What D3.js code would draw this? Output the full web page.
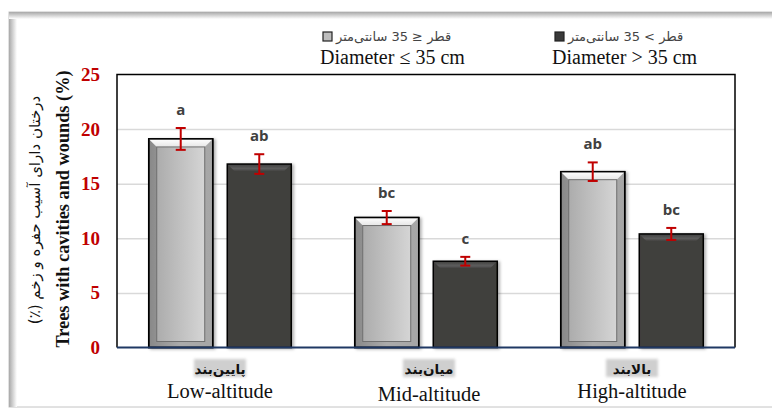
<!DOCTYPE html>
<html>
<head>
<meta charset="utf-8">
<script src="https://cdn.jsdelivr.net/npm/d3@7"></script>
<style>
  html, body { margin: 0; padding: 0; background: #ffffff; }
  svg { display: block; }
</style>
</head>
<body>
<svg id="chart" width="772" height="409"></svg>
<script>
// Altitude classes (Persian + English labels)
const categories = ["Low-altitude", "Mid-altitude", "High-altitude"];
const categoriesFa = ["پایین‌بند", "میان‌بند", "بالابند"];
// Diameter classes
const seriesKeys = ["small", "large"];
const seriesLabelsEn = ["Diameter \u2264 35 cm", "Diameter > 35 cm"];
const seriesLabelsFa = ["قطر \u2264 35 سانتی‌متر", "قطر > 35 سانتی‌متر"];
// Percentage of trees with cavities and wounds, per altitude class
const smallValues = [19.1, 11.9, 16.1];
const largeValues = [16.8, 7.9, 10.4];
// Standard errors
const smallErrors = [1.0, 0.6, 0.85];
const largeErrors = [0.9, 0.4, 0.55];
// Mean-separation letters
const smallLetters = ["a", "bc", "ab"];
const largeLetters = ["ab", "c", "bc"];
const yTicks = [0, 5, 10, 15, 20, 25];

const svg = d3.select("#chart");
const defs = svg.append("defs");

// Gradients for the bevelled bars
function linGrad(id, x2, y2, stops) {
  const g = defs.append("linearGradient").attr("id", id)
    .attr("x1", 0).attr("y1", 0).attr("x2", x2).attr("y2", y2);
  stops.forEach(([o, c]) => g.append("stop").attr("offset", o).attr("stop-color", c));
}
linGrad("lightFrame", 1, 0, [[0, "#888888"], [0.5, "#ababab"], [1, "#a6a6a6"]]);
linGrad("lightFace", 1, 0, [[0, "#acacac"], [1, "#d5d5d5"]]);
linGrad("lightTop", 0, 1, [[0, "#ffffff"], [1, "#e6e6e6"]]);
linGrad("darkTop", 0, 1, [[0, "#474746"], [0.6, "#5c5c5c"], [1, "#434240"]]);
linGrad("panelLeft", 1, 0, [[0, "#a8a8a8"], [1, "#ffffff"]]);
linGrad("panelTop", 0, 1, [[0, "#a8a8a8"], [1, "#ffffff"]]);

const shadow = defs.append("filter").attr("id", "barShadow")
  .attr("x", "-20%").attr("y", "-10%").attr("width", "150%").attr("height", "130%");
shadow.append("feDropShadow").attr("dx", 2).attr("dy", 1).attr("stdDeviation", 1.6)
  .attr("flood-color", "#000").attr("flood-opacity", 0.3);
const soft = defs.append("filter").attr("id", "soft")
  .attr("x", "-30%").attr("y", "-50%").attr("width", "160%").attr("height", "200%");
soft.append("feGaussianBlur").attr("stdDeviation", 1.8);

// Outer panel with an inset shadow on the top and left edges
svg.append("rect").attr("x", 9).attr("y", 12).attr("width", 780).attr("height", 395)
  .attr("fill", "#ffffff").attr("stroke", "#c4c4c4").attr("stroke-width", 1);
svg.append("rect").attr("x", 9).attr("y", 12).attr("width", 8).attr("height", 395)
  .attr("fill", "url(#panelLeft)");
svg.append("rect").attr("x", 9).attr("y", 12).attr("width", 780).attr("height", 7)
  .attr("fill", "url(#panelTop)");

// Scales
const plot = { left: 117, right: 735, top: 74.5, bottom: 347.5 };
const x0 = d3.scaleBand().domain(categories).range([plot.left, plot.right]).padding(0);
const x1 = d3.scaleBand().domain(seriesKeys).range([0, x0.bandwidth()])
  .paddingInner(0.185).paddingOuter(0.404);
const y = d3.scaleLinear().domain([0, 25]).range([plot.bottom, plot.top]);

// Gridlines
svg.append("g").attr("class", "grid")
  .call(d3.axisLeft(y).tickValues(yTicks.filter(t => t > 0 && t < 25))
    .tickSize(-(plot.right - plot.left)).tickFormat(""))
  .attr("transform", `translate(${plot.left},0)`)
  .call(g => g.select(".domain").remove())
  .call(g => g.selectAll("line").attr("stroke", "#d9d9d9").attr("stroke-width", 1.5));

// Y tick labels
svg.append("g")
  .attr("transform", `translate(${plot.left},0)`)
  .call(d3.axisLeft(y).tickValues(yTicks).tickSize(0).tickPadding(17))
  .call(g => g.select(".domain").remove())
  .call(g => g.selectAll("text")
    .attr("fill", "#c00000")
    .attr("font-family", "'Liberation Serif', 'Times New Roman', serif")
    .attr("font-weight", "bold")
    .attr("font-size", 19));

// Plot frame: black top/left/right, navy baseline
svg.append("path")
  .attr("d", `M${plot.left},${plot.bottom} V${plot.top} H${plot.right} V${plot.bottom}`)
  .attr("fill", "none").attr("stroke", "#000").attr("stroke-width", 1.5);

// Bars
const rows = categories.map((c, i) => ({
  cat: c,
  bars: [
    { key: "small", value: smallValues[i], err: smallErrors[i], letter: smallLetters[i] },
    { key: "large", value: largeValues[i], err: largeErrors[i], letter: largeLetters[i] }
  ]
}));

const groups = svg.append("g").selectAll("g").data(rows).join("g")
  .attr("transform", d => `translate(${x0(d.cat)},0)`);

const bw = x1.bandwidth();
const bevel = 8;

groups.each(function (row) {
  const g = d3.select(this);
  row.bars.forEach(b => {
    const bx = x1(b.key), by = y(b.value), bh = y(0) - y(b.value);
    const bar = g.append("g").attr("filter", "url(#barShadow)");
    if (b.key === "small") {
      bar.append("rect").attr("x", bx).attr("y", by).attr("width", bw).attr("height", bh)
        .attr("fill", "url(#lightFrame)").attr("stroke", "#000").attr("stroke-width", 1.5);
      bar.append("path")
        .attr("d", `M${bx},${by} H${bx + bw} L${bx + bw - bevel},${by + bevel} H${bx + bevel} Z`)
        .attr("fill", "url(#lightTop)");
      bar.append("rect").attr("x", bx + bevel).attr("y", by + bevel)
        .attr("width", bw - 2 * bevel).attr("height", Math.max(0, bh - bevel - 6))
        .attr("fill", "url(#lightFace)").attr("stroke", "#6f6f6f").attr("stroke-width", 1);
      bar.append("rect").attr("x", bx).attr("y", by).attr("width", bw).attr("height", bh)
        .attr("fill", "none").attr("stroke", "#000").attr("stroke-width", 1.5);
    } else {
      bar.append("rect").attr("x", bx).attr("y", by).attr("width", bw).attr("height", bh)
        .attr("fill", "#403f3d").attr("stroke", "#000").attr("stroke-width", 1.5);
      bar.append("path")
        .attr("d", `M${bx + 1},${by + 1} H${bx + bw - 1} L${bx + bw - 7},${by + 7} H${bx + 7} Z`)
        .attr("fill", "url(#darkTop)");
    }
  });
});

// Error bars
const errG = groups.selectAll("g.err").data(d => d.bars).join("g").attr("class", "err")
  .attr("stroke", "#c00000").attr("stroke-width", 2);
errG.append("line")
  .attr("x1", d => x1(d.key) + bw / 2).attr("x2", d => x1(d.key) + bw / 2)
  .attr("y1", d => y(d.value + d.err)).attr("y2", d => y(d.value - d.err));
errG.append("line")
  .attr("x1", d => x1(d.key) + bw / 2 - 5).attr("x2", d => x1(d.key) + bw / 2 + 5)
  .attr("y1", d => y(d.value + d.err)).attr("y2", d => y(d.value + d.err));
errG.append("line")
  .attr("x1", d => x1(d.key) + bw / 2 - 5).attr("x2", d => x1(d.key) + bw / 2 + 5)
  .attr("y1", d => y(d.value - d.err)).attr("y2", d => y(d.value - d.err));

// Significance letters
groups.selectAll("text.letter").data(d => d.bars).join("text").attr("class", "letter")
  .attr("x", d => x1(d.key) + bw / 2)
  .attr("y", d => y(d.value + d.err) - 13)
  .attr("text-anchor", "middle")
  .attr("font-family", "'Open Sans', 'Liberation Sans', sans-serif")
  .attr("font-weight", "bold").attr("font-size", 15).attr("fill", "#404040")
  .text(d => d.letter);

// Baseline
svg.append("line").attr("x1", plot.left).attr("x2", plot.right)
  .attr("y1", plot.bottom).attr("y2", plot.bottom)
  .attr("stroke", "#1f3864").attr("stroke-width", 1.8);

// Category labels
const catG = svg.append("g").selectAll("g").data(categories).join("g")
  .attr("transform", (d, i) => `translate(${x0(d) + x0.bandwidth() / 2 + (i === 1 ? 3 : 0)},0)`);
catG.append("rect")
  .attr("x", -26).attr("y", 359).attr("width", 52).attr("height", 18)
  .attr("fill", "#cfcfcf").attr("filter", "url(#soft)");
catG.append("text")
  .attr("y", 374).attr("text-anchor", "middle")
  .attr("font-family", "'DejaVu Sans', 'Noto Sans', sans-serif")
  .attr("font-weight", "bold").attr("font-size", 13.5).attr("fill", "#111")
  .attr("direction", "rtl")
  .text((d, i) => categoriesFa[i]);
catG.append("text")
  .attr("y", (d, i) => i === 1 ? 401 : 398).attr("text-anchor", "middle")
  .attr("font-family", "'Liberation Serif', 'Times New Roman', serif")
  .attr("font-size", 20.5).attr("fill", "#111")
  .text(d => d);

// Legend
const legendX = [326, 558];
const legendFill = ["#bdbdbd", "#3a3a3a"];
const leg = svg.append("g").selectAll("g").data(seriesKeys).join("g")
  .attr("transform", (d, i) => `translate(${legendX[i]},0)`);
leg.append("rect").attr("x", -3).attr("y", 32).attr("width", 9).attr("height", 9)
  .attr("fill", (d, i) => legendFill[i]).attr("stroke", "#222").attr("stroke-width", 1.2);
leg.append("text")
  .attr("x", 10).attr("y", 41)
  .attr("text-anchor", "end").attr("direction", "rtl")
  .attr("font-family", "'DejaVu Sans', 'Liberation Sans', sans-serif")
  .attr("font-size", 13).attr("fill", "#444")
  .text((d, i) => seriesLabelsFa[i]);
leg.append("text")
  .attr("x", -6).attr("y", 64)
  .attr("font-family", "'Liberation Serif', 'Times New Roman', serif")
  .attr("font-size", 20).attr("fill", "#111")
  .text((d, i) => seriesLabelsEn[i]);

// Y axis title (Persian and English)
svg.append("text")
  .attr("transform", "translate(40,210) rotate(-90)")
  .attr("text-anchor", "middle").attr("direction", "rtl")
  .attr("font-family", "'DejaVu Sans', 'Noto Sans', sans-serif")
  .attr("font-size", 15).attr("fill", "#111")
  .text("درختان دارای آسیب حفره و زخم (٪)");
svg.append("text")
  .attr("transform", "translate(69,209) rotate(-90)")
  .attr("text-anchor", "middle")
  .attr("font-family", "'Liberation Serif', 'Times New Roman', serif")
  .attr("font-weight", "bold").attr("font-size", 19).attr("fill", "#111")
  .attr("textLength", 277).attr("lengthAdjust", "spacingAndGlyphs")
  .text("Trees with cavities and wounds (%)");
</script>
</body>
</html>
